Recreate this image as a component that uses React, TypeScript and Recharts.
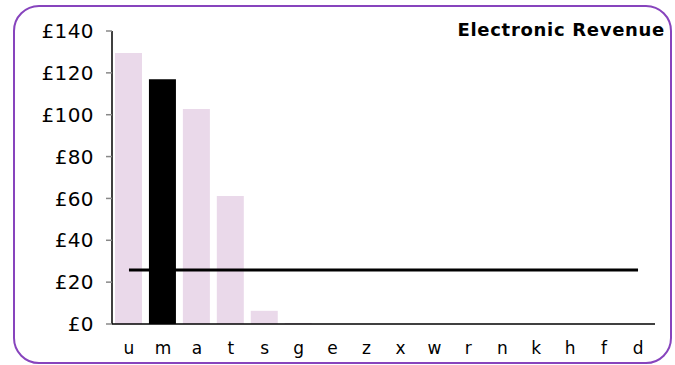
import { ComposedChart, Bar, Line, XAxis, YAxis, Cell } from "recharts";

const categories = ["u", "m", "a", "t", "s", "g", "e", "z", "x", "w", "r", "n", "k", "h", "f", "d"];
const revenue = [129.5, 117, 102.7, 61.2, 6.3, 0.5, 0, 0, 0, 0, 0, 0, 0, 0, 0, 0];
const average = [25.8, 25.8, 25.8, 25.8, 25.8, 25.8, 25.8, 25.8, 25.8, 25.8, 25.8, 25.8, 25.8, 25.8, 25.8, 25.8];
const highlighted = "m";
const yTicks = [0, 20, 40, 60, 80, 100, 120, 140];

const data = categories.map((name, i) => ({ name, revenue: revenue[i], average: average[i] }));

const font = "Verdana, 'DejaVu Sans', sans-serif";

const App = () => {
  return (
    <div style={{ position: "fixed", left: 0, top: 0, width: 675, height: 365, background: "#fff" }}>
      <div
        style={{
          position: "absolute",
          left: 13,
          top: 5,
          width: 659,
          height: 359,
          border: "2px solid #8744bd",
          borderRadius: 26,
          boxSizing: "border-box",
        }}
      />
      <div
        style={{
          position: "absolute",
          right: 10,
          top: 19,
          fontFamily: font,
          fontWeight: "bold",
          fontSize: 18,
          letterSpacing: 0.7,
          color: "#000",
        }}
      >
        Electronic Revenue
      </div>
      <div style={{ position: "absolute", left: 0, top: 0 }}>
        <ComposedChart width={675} height={365} data={data} margin={{ top: 31, right: 20, left: 0, bottom: 11 }}>
          <XAxis
            dataKey="name"
            axisLine={{ stroke: "#000", strokeWidth: 1.5 }}
            tickLine={false}
            tick={{ fontSize: 17, fill: "#000", fontFamily: font }}
            tickMargin={12}
            interval={0}
          />
          <YAxis
            width={112}
            domain={[0, 140]}
            ticks={yTicks}
            axisLine={{ stroke: "#000", strokeWidth: 1.5 }}
            tickLine={{ stroke: "#888", strokeWidth: 1.5 }}
            tickSize={6}
            tickMargin={12}
            tick={{ fontSize: 20, fill: "#000", fontFamily: font, letterSpacing: 0.4 }}
            tickFormatter={(v) => `£${v}`}
          />
          <Bar dataKey="revenue" barSize={27} isAnimationActive={false}>
            {data.map((d) => (
              <Cell key={d.name} fill={d.name === highlighted ? "#000" : "#ead9ea"} />
            ))}
          </Bar>
          <Line
            dataKey="average"
            stroke="#000"
            strokeWidth={3}
            dot={false}
            isAnimationActive={false}
          />
        </ComposedChart>
      </div>
    </div>
  );
};

export default App;
